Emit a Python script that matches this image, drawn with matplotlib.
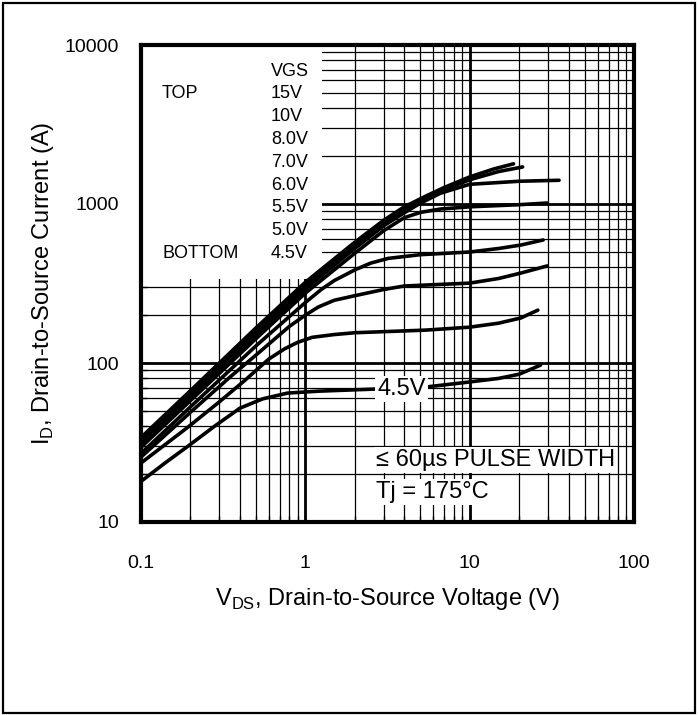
import matplotlib
matplotlib.use("Agg")
import matplotlib.pyplot as plt
from matplotlib.patches import Rectangle
from matplotlib.ticker import LogLocator, NullFormatter, FixedLocator, FixedFormatter

plt.rcParams['font.family'] = ['Liberation Sans', 'DejaVu Sans']
plt.rcParams['mathtext.fontset'] = 'custom'
plt.rcParams['mathtext.rm'] = 'Liberation Sans'

# Output characteristics, Tj = 175 C (VDS in V, ID in A)
vds_15v = [0.1, 0.2, 0.5, 1, 2, 3, 4, 5.5, 7, 10, 14, 18.5]
id_15v = [34, 67, 166, 322, 575, 790, 960, 1130, 1270, 1480, 1660, 1790]

vds_10v = [0.1, 0.2, 0.5, 1, 2, 3, 4, 5.5, 7, 10, 15, 21]
id_10v = [32.5, 64, 158, 307, 550, 765, 930, 1100, 1230, 1420, 1600, 1710]

vds_8v = [0.1, 0.2, 0.5, 1, 2, 3, 4, 5, 6.65, 10, 20, 35]
id_8v = [31, 61, 150, 292, 525, 730, 880, 1010, 1170, 1330, 1390, 1410]

vds_7v = [0.1, 0.2, 0.5, 1, 2, 3, 4, 5, 6.65, 10, 20, 29.7]
id_7v = [29.5, 58, 142, 275, 490, 680, 820, 885, 930, 960, 990, 1014]

vds_6v = [0.1, 0.2, 0.5, 1.0, 1.25, 1.5, 2, 2.5, 3.2, 5, 10, 15, 20.5, 28]
id_6v = [27, 53, 128, 240, 290, 330, 385, 425, 455, 480, 499, 525, 552, 594]

vds_5v5 = [0.1, 0.2, 0.35, 0.5, 0.8, 1.0, 1.2, 1.5, 2, 3, 4, 10, 15, 20.5, 29.7]
id_5v5 = [25.6, 49, 82, 112, 170, 200, 225, 248, 265, 290, 305, 318, 340, 368, 408]

vds_5v0 = [0.1, 0.19, 0.3, 0.43, 0.6, 0.75, 0.9, 1.1, 1.5, 2, 5.4, 10, 15, 20.5, 26]
id_5v0 = [23.5, 39, 57, 78, 106, 123, 135, 145, 151, 155, 161, 168, 178, 192, 215]

vds_4v5 = [0.1, 0.14, 0.19, 0.28, 0.4, 0.55, 0.78, 1.2, 2.6, 5.4, 10, 15, 20, 27]
id_4v5 = [18, 23.5, 29.6, 40, 52, 59.5, 64.7, 66.5, 68.5, 70.6, 76, 80, 85, 97]

vgs_labels = ["15V", "10V", "8.0V", "7.0V", "6.0V", "5.5V", "5.0V", "4.5V"]
x_ticks = [0.1, 1, 10, 100]
x_tick_labels = ["0.1", "1", "10", "100"]
y_ticks = [10, 100, 1000, 10000]
y_tick_labels = ["10", "100", "1000", "10000"]

W, H = 699, 715
fig = plt.figure(figsize=(W / 100, H / 100), dpi=100)

# outer frame
fig.patches.append(Rectangle((3 / W, 2 / H), 692 / W, 710 / H, transform=fig.transFigure,
                             fill=False, edgecolor='black', linewidth=1.6, zorder=0))

ax_l, ax_r, ax_t, ax_b = 141, 634, 45, 522
ax = fig.add_axes([ax_l / W, (H - ax_b) / H, (ax_r - ax_l) / W, (ax_b - ax_t) / H])
ax.set_xscale('log')
ax.set_yscale('log')
ax.set_xlim(0.1, 100)
ax.set_ylim(10, 10000)

ax.xaxis.set_major_locator(FixedLocator(x_ticks))
ax.xaxis.set_major_formatter(FixedFormatter(x_tick_labels))
ax.yaxis.set_major_locator(FixedLocator(y_ticks))
ax.yaxis.set_major_formatter(FixedFormatter(y_tick_labels))
ax.xaxis.set_minor_locator(LogLocator(base=10, subs=range(2, 10)))
ax.yaxis.set_minor_locator(LogLocator(base=10, subs=range(2, 10)))
ax.xaxis.set_minor_formatter(NullFormatter())
ax.yaxis.set_minor_formatter(NullFormatter())

ax.grid(which='major', color='black', linewidth=2.0, zorder=1)
ax.grid(which='minor', color='black', linewidth=0.9, zorder=1)
ax.set_axisbelow(True)
for s in ax.spines.values():
    s.set_linewidth(3.0)
    s.set_zorder(10)

ax.tick_params(which='both', direction='in', width=1.0, color='black')
ax.tick_params(which='major', length=4)
ax.tick_params(which='minor', length=4)
ax.tick_params(axis='x', which='major', labelsize=14, pad=24)
ax.tick_params(axis='y', which='major', labelsize=14, pad=16)

# white legend panel in the upper-left corner
def ax_frac(px, py):
    return (px - ax_l) / (ax_r - ax_l), (ax_b - py) / (ax_b - ax_t)

bx, by = ax_frac(322, 279)
ax.add_patch(Rectangle((0, by), bx, 1 - by, transform=ax.transAxes,
                       facecolor='white', edgecolor='none', zorder=3))

series = [
    (vds_15v, id_15v), (vds_10v, id_10v), (vds_8v, id_8v), (vds_7v, id_7v),
    (vds_6v, id_6v), (vds_5v5, id_5v5), (vds_5v0, id_5v0), (vds_4v5, id_4v5),
]
for xs, ys in series:
    ax.plot(xs, ys, color='black', linewidth=2.6, solid_capstyle='round',
            solid_joinstyle='round', zorder=5)

# legend text
tx, ty = ax_frac(271, 71)
ax.text(tx, ty, "VGS", transform=ax.transAxes, fontsize=13, va='center', ha='left', zorder=6)
lx, _ = ax_frac(162, 0)
for i, lab in enumerate(vgs_labels):
    _, yy = ax_frac(0, 94 + i * 22.8)
    ax.text(tx, yy, lab, transform=ax.transAxes, fontsize=13, va='center', ha='left', zorder=6)
_, yy = ax_frac(0, 94)
ax.text(lx, yy, "TOP", transform=ax.transAxes, fontsize=13, va='center', ha='left', zorder=6)
_, yy = ax_frac(0, 94 + 7 * 22.8)
ax.text(lx, yy, "BOTTOM", transform=ax.transAxes, fontsize=13, va='center', ha='left', zorder=6)

# annotations
box = dict(facecolor='white', edgecolor='none', pad=1.5)
ax.text(3.85, 68.5, "4.5V", fontsize=17, ha='center', va='center', bbox=box, zorder=7)
ax.text(2.7, 24.5, "\u2264 60\u00b5s PULSE WIDTH", fontsize=17, ha='left', va='center', bbox=box, zorder=7)
ax.text(2.7, 15.5, "Tj = 175\u00b0C", fontsize=17, ha='left', va='center', bbox=box, zorder=7)

ax.set_xlabel(r"V$_{\mathregular{DS}}$, Drain-to-Source Voltage (V)", fontsize=17, labelpad=10)
ax.set_ylabel(r"I$_{\mathregular{D}}$, Drain-to-Source Current (A)", fontsize=17, labelpad=6)

fig.savefig("out.png", dpi=100)
